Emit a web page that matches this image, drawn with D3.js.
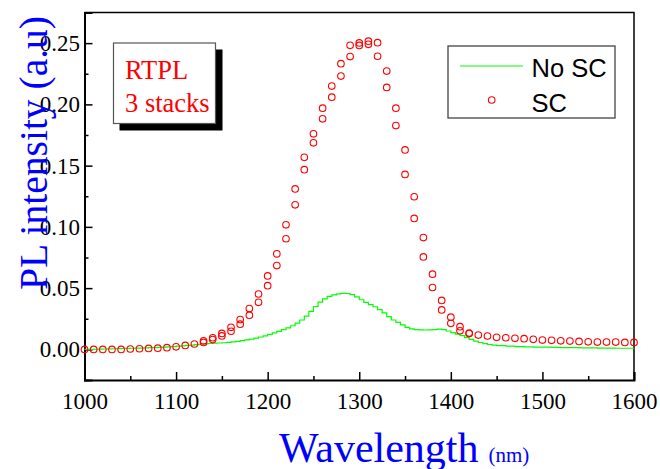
<!DOCTYPE html>
<html>
<head>
<meta charset="utf-8">
<script src="https://cdn.jsdelivr.net/npm/d3@7/dist/d3.min.js"></script>
<style>
  html, body { margin: 0; padding: 0; background: #fff; }
  svg { display: block; }
</style>
</head>
<body>
<svg id="chart" width="660" height="469"></svg>
<script>
// Photoluminescence spectra, 3-stack sample, with and without SC.

// No SC: continuous spectrum (nm, a.u.)
const noScWavelength = [
  1000,1005,1010,1015,1020,1025,1030,1035,1040,1045,1050,1055,1060,1065,1070,1075,1080,1085,1090,1095,
  1100,1105,1110,1115,1120,1125,1130,1135,1140,1145,1150,1155,1160,1165,1170,1175,1180,1185,1190,1195,
  1200,1205,1210,1215,1220,1225,1230,1235,1240,1245,1250,1255,1260,1265,1270,1275,1280,1285,1290,1295,
  1300,1305,1310,1315,1320,1325,1330,1335,1340,1345,1350,1355,1360,1365,1370,1375,1380,1385,1390,1395,
  1400,1405,1410,1415,1420,1425,1430,1435,1440,1445,1450,
  1460,1470,1480,1490,1500,1510,1520,1530,1540,1550,1560,1570,1580,1590,1600
];
const noScIntensity = [
  0.0000,0.0000,0.0001,0.0002,0.0003,0.0004,0.0005,0.0006,0.0007,0.0008,0.0009,0.0010,0.0011,0.0012,0.0014,0.0015,0.0017,0.0019,0.0021,0.0023,
  0.0026,0.0029,0.0032,0.0035,0.0039,0.0042,0.0045,0.0048,0.0050,0.0052,0.0054,0.0057,0.0061,0.0066,0.0071,0.0077,0.0084,0.0092,0.0101,0.0111,
  0.0122,0.0134,0.0147,0.0161,0.0176,0.0193,0.0214,0.0240,0.0272,0.0310,0.0350,0.0385,0.0412,0.0432,0.0445,0.0453,0.0457,0.0456,0.0447,0.0428,
  0.0405,0.0384,0.0366,0.0348,0.0325,0.0298,0.0268,0.0240,0.0220,0.0200,0.0180,0.0168,0.0162,0.0159,0.0158,0.0159,0.0162,0.0166,0.0162,0.0150,
  0.0136,0.0124,0.0112,0.0096,0.0082,0.0068,0.0056,0.0047,0.0040,0.0035,0.0031,
  0.0026,0.0023,0.0021,0.0019,0.0018,0.0016,0.0015,0.0014,0.0013,0.0012,0.0011,0.0010,0.0009,0.0009,0.0008
];

// SC: measured points (two readings at several wavelengths)
const scWavelength = [
  1000,1010,1020,1030,1040,1050,1060,1070,1080,1090,1100,1110,1120,
  1130,1130,1140,1140,1150,1150,1160,1160,1170,1170,1180,1180,1190,1190,
  1200,1200,1210,1210,1220,1220,1230,1230,1240,1240,1250,1250,1260,1260,
  1270,1270,1280,1280,1290,1290,1300,1300,1310,1310,1320,1320,1330,1330,
  1340,1340,1350,1350,1360,1360,1370,1370,1380,1380,1390,1390,1400,1400,
  1410,1410,1420,1420,
  1430,1440,1450,1460,1470,1480,1490,1500,1510,1520,1530,1540,1550,1560,1570,1580,1590,1600
];
const scIntensity = [
  0.0000,0.0000,0.0000,0.0000,0.0000,0.0003,0.0005,0.0008,0.0010,0.0014,0.0021,0.0032,0.0044,
  0.0070,0.0057,0.0095,0.0080,0.0130,0.0110,0.0180,0.0148,0.0243,0.0206,0.0333,0.0279,0.0452,0.0384,
  0.0600,0.0520,0.0780,0.0684,0.1017,0.0903,0.1310,0.1180,0.1568,0.1467,0.1760,0.1686,0.1969,0.1882,
  0.2149,0.2059,0.2332,0.2231,0.2482,0.2390,0.2502,0.2481,0.2516,0.2490,0.2504,0.2393,0.2272,0.2138,
  0.1969,0.1827,0.1628,0.1428,0.1246,0.1069,0.0913,0.0755,0.0614,0.0505,0.0400,0.0322,0.0263,0.0213,
  0.0185,0.0152,0.0133,0.0129,
  0.0117,0.0109,0.0098,0.0095,0.0090,0.0087,0.0082,0.0076,0.0074,0.0070,0.0068,0.0065,0.0062,0.0060,0.0060,0.0060,0.0057,0.0057
];

// Axis ticks
const xMajorTicks = [1000, 1100, 1200, 1300, 1400, 1500, 1600];
const xMinorTicks = [1050, 1150, 1250, 1350, 1450, 1550];
const yMajorTicks = [0.00, 0.05, 0.10, 0.15, 0.20, 0.25];
const yMinorTicks = [-0.025, 0.025, 0.075, 0.125, 0.175, 0.225, 0.275];

const xDomain = [1000, 1600];
const yDomain = [-0.025, 0.275];

const seriesLabels = ["No SC", "SC"];
const noteLines = ["RTPL", "3 stacks"];

const serif = "'Liberation Serif', 'Times New Roman', serif";
const sans = "'Liberation Sans', Arial, sans-serif";

const svg = d3.select("#chart");

const plot = { left: 84.5, right: 634, top: 12.5, bottom: 380 };

const x = d3.scaleLinear().domain(xDomain).range([plot.left, plot.right]);
const y = d3.scaleLinear().domain(yDomain).range([plot.bottom, plot.top]);

// Frame: top and right edges
svg.append("path")
  .attr("d", `M${plot.left},${plot.top}H${plot.right}V${plot.bottom}`)
  .attr("fill", "none").attr("stroke", "#000").attr("stroke-width", 1.5);

// X axis (ticks point inward)
svg.append("g")
  .attr("transform", `translate(0,${plot.bottom})`)
  .call(d3.axisBottom(x).tickValues(xMajorTicks).tickFormat(d3.format("d"))
    .tickSize(-8).tickPadding(13));
svg.append("g")
  .attr("transform", `translate(0,${plot.bottom})`)
  .call(d3.axisBottom(x).tickValues(xMinorTicks).tickFormat("").tickSize(-4))
  .call(g => g.select(".domain").remove());

// Y axis (ticks point inward)
svg.append("g")
  .attr("transform", `translate(${plot.left},0)`)
  .call(d3.axisLeft(y).tickValues(yMajorTicks).tickFormat(d3.format(".2f"))
    .tickSize(-8).tickPadding(4.5));
svg.append("g")
  .attr("transform", `translate(${plot.left},0)`)
  .call(d3.axisLeft(y).tickValues(yMinorTicks).tickFormat("").tickSize(-4))
  .call(g => g.select(".domain").remove());

svg.selectAll(".domain").attr("stroke", "#000").attr("stroke-width", 2);
svg.selectAll(".tick line").attr("stroke", "#000").attr("stroke-width", 1.5);
svg.selectAll(".tick text")
  .attr("font-family", serif).attr("font-size", 23).attr("fill", "#000");

// No SC curve
const noScData = noScWavelength.map((w, i) => [w, noScIntensity[i]]);
svg.append("path")
  .datum(noScData)
  .attr("fill", "none")
  .attr("stroke", "#00ff00")
  .attr("stroke-width", 1.2)
  .attr("d", d3.line().x(d => x(d[0])).y(d => y(d[1])).curve(d3.curveStepAfter));

// SC points
const scData = scWavelength.map((w, i) => [w, scIntensity[i]]);
svg.append("g")
  .selectAll("circle")
  .data(scData)
  .join("circle")
  .attr("cx", d => x(d[0]))
  .attr("cy", d => y(d[1]))
  .attr("r", 3.3)
  .attr("fill", "none")
  .attr("stroke", "#ff0000")
  .attr("stroke-width", 1.1);

// Note box with drop shadow
const note = svg.append("g");
note.append("rect")
  .attr("x", 119.5).attr("y", 49.5).attr("width", 103).attr("height", 81)
  .attr("fill", "#000");
note.append("rect")
  .attr("x", 113.5).attr("y", 43).attr("width", 102).attr("height", 80.5)
  .attr("fill", "#fff").attr("stroke", "#555").attr("stroke-width", 1.2);
note.selectAll("text")
  .data(noteLines)
  .join("text")
  .attr("x", 125)
  .attr("y", (d, i) => 79 + i * 33)
  .attr("font-family", serif)
  .attr("font-size", 26.5)
  .attr("fill", "#ff0000")
  .text(d => d);

// Legend
const legend = svg.append("g");
legend.append("rect")
  .attr("x", 448).attr("y", 46).attr("width", 167).attr("height", 72)
  .attr("fill", "#fff").attr("stroke", "#444").attr("stroke-width", 1.3);
legend.append("line")
  .attr("x1", 460).attr("x2", 523).attr("y1", 66).attr("y2", 66)
  .attr("stroke", "#00ff00").attr("stroke-width", 1.2);
legend.append("circle")
  .attr("cx", 491.7).attr("cy", 100).attr("r", 3.3)
  .attr("fill", "none").attr("stroke", "#ff0000").attr("stroke-width", 1.1);
legend.selectAll("text")
  .data(seriesLabels)
  .join("text")
  .attr("x", 531.5)
  .attr("y", (d, i) => 77 + i * 35)
  .attr("font-family", sans)
  .attr("font-size", 25.5)
  .attr("fill", "#000")
  .text(d => d);

// Axis titles
const xTitle = svg.append("text")
  .attr("x", 279)
  .attr("y", 461.5)
  .attr("font-family", serif)
  .attr("fill", "#0000ff");
xTitle.append("tspan").attr("font-size", 42).text("Wavelength");
xTitle.append("tspan").attr("font-size", 21).attr("dx", 10).text("(nm)");

svg.append("text")
  .attr("transform", "translate(47,153) rotate(-90)")
  .attr("text-anchor", "middle")
  .attr("font-family", serif)
  .attr("font-size", 39.5)
  .attr("fill", "#0000ff")
  .text("PL intensity (a.u)");
</script>
</body>
</html>
